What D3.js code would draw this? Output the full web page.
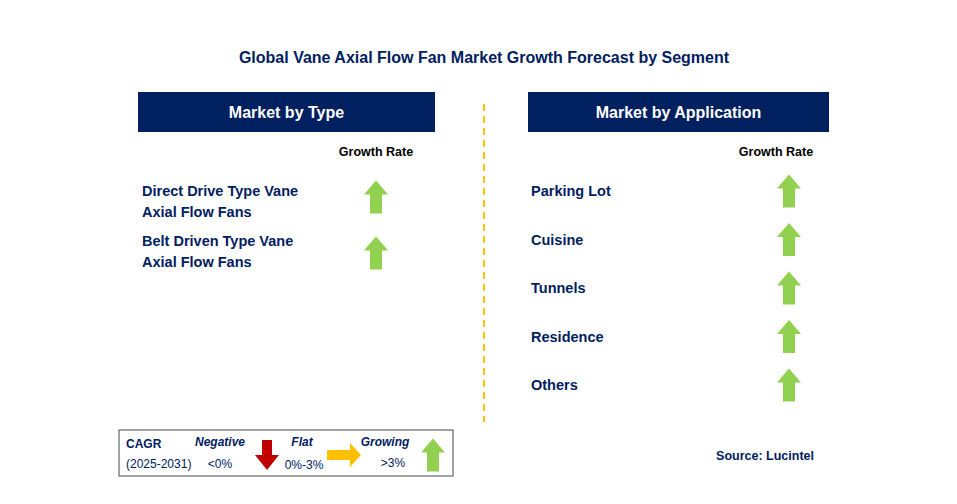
<!DOCTYPE html>
<html lang="en">
<head>
<meta charset="UTF-8">
<title>Vane Axial Flow Fan</title>
<script src="https://cdn.jsdelivr.net/npm/d3@7"></script>
<style>
  body { margin: 0; background: #fff; }
  text { font-family: Arial, "Liberation Sans", sans-serif; }
</style>
</head>
<body>
<script>
const title = 'Global Vane Axial Flow Fan Market Growth Forecast by Segment'
const typeSegments = [['Direct Drive Type Vane', 'Axial Flow Fans'], ['Belt Driven Type Vane', 'Axial Flow Fans']]
const typeTrend = ['up', 'up']
const appSegments = ['Parking Lot', 'Cuisine', 'Tunnels', 'Residence', 'Others']
const appTrend = ['up', 'up', 'up', 'up', 'up']

const [width, height] = [957, 504]
const navy = '#002060', green = '#92D050'
const svg = d3.select('body').append('svg').attr('width', width).attr('height', height)

svg.append('text').attr('x', 484).attr('y', 63).attr('text-anchor', 'middle')
    .attr('font-size', 16).attr('font-weight', 'bold').attr('fill', navy).text(title)

// dashed divider
svg.append('line').attr('x1', 484).attr('x2', 484).attr('y1', 104).attr('y2', 422)
    .attr('stroke', '#FFC000').attr('stroke-width', 2).attr('stroke-dasharray', '7,5')

const arrowUp = (g, cx, cy, col) => {
    const h = 33, hw = 12, sw = 6, hh = 14, t = cy - h / 2
    g.append('path').attr('fill', col || green)
        .attr('d', `M${cx},${t} L${cx + hw},${t + hh} L${cx + sw},${t + hh} L${cx + sw},${t + h} L${cx - sw},${t + h} L${cx - sw},${t + hh} L${cx - hw},${t + hh} Z`)
}

const header = (x, w, label, grX) => {
    svg.append('rect').attr('x', x).attr('y', 92).attr('width', w).attr('height', 40).attr('fill', navy)
    svg.append('text').attr('x', x + w / 2).attr('y', 118).attr('text-anchor', 'middle')
        .attr('font-size', 16).attr('font-weight', 'bold').attr('fill', '#fff').text(label)
    svg.append('text').attr('x', grX).attr('y', 156).attr('text-anchor', 'middle')
        .attr('font-size', 12.5).attr('font-weight', 'bold').attr('fill', '#000').text('Growth Rate')
}
header(138, 297, 'Market by Type', 376)
header(528, 301, 'Market by Application', 776)

// left panel
const yType = d3.scalePoint().domain(d3.range(typeSegments.length)).range([197, 253])
const yTypeText = d3.scalePoint().domain(d3.range(typeSegments.length)).range([196, 246])
typeSegments.forEach((lines, i) => {
    const t = svg.append('text').attr('font-size', 14.5).attr('font-weight', 'bold').attr('fill', navy)
    lines.forEach((l, j) => t.append('tspan').attr('x', 142).attr('y', yTypeText(i) + j * 21).text(l))
    arrowUp(svg, 376, yType(i), typeTrend[i] === 'up' ? green : '#C00000')
})

// right panel
const yApp = d3.scalePoint().domain(appSegments).range([191, 385])
appSegments.forEach((s, i) => {
    svg.append('text').attr('x', 531).attr('y', yApp(s) + 5).attr('font-size', 14.5)
        .attr('font-weight', 'bold').attr('fill', navy).text(s)
    arrowUp(svg, 789, yApp(s), appTrend[i] === 'up' ? green : '#C00000')
})

// legend
const lg = svg.append('g')
lg.append('rect').attr('x', 119).attr('y', 430).attr('width', 334).attr('height', 46)
    .attr('fill', '#fff').attr('stroke', '#666').attr('stroke-width', 1.2)
const lt = (x, y, s, opts = {}) => lg.append('text').attr('x', x).attr('y', y).attr('font-size', 12)
    .attr('font-weight', opts.b ? 'bold' : 'normal').attr('font-style', opts.i ? 'italic' : 'normal')
    .attr('text-anchor', opts.a || 'start').attr('fill', navy).text(s)
lt(126, 448, 'CAGR', { b: true })
lt(126, 468, '(2025-2031)', { b: false })
lt(220, 446, 'Negative', { b: true, i: true, a: 'middle' })
lt(220, 468, '<0%', { a: 'middle' })
lt(302, 446, 'Flat', { b: true, i: true, a: 'middle' })
lt(304, 469, '0%-3%', { a: 'middle' })
lt(385, 446, 'Growing', { b: true, i: true, a: 'middle' })
lt(393, 467, '>3%', { a: 'middle' })
// down arrow (red)
lg.append('path').attr('fill', '#C00000')
    .attr('d', 'M262,440 L272,440 L272,455 L279,455 L267,470 L255,455 L262,455 Z')
// right arrow (yellow)
lg.append('path').attr('fill', '#FFC000')
    .attr('d', 'M327,450 L350,450 L350,443 L361,455 L350,467 L350,460 L327,460 Z')
arrowUp(lg, 433, 455, green)

svg.append('text').attr('x', 814).attr('y', 460).attr('text-anchor', 'end')
    .attr('font-size', 12.5).attr('font-weight', 'bold').attr('fill', navy).text('Source: Lucintel')
</script>
</body>
</html>
